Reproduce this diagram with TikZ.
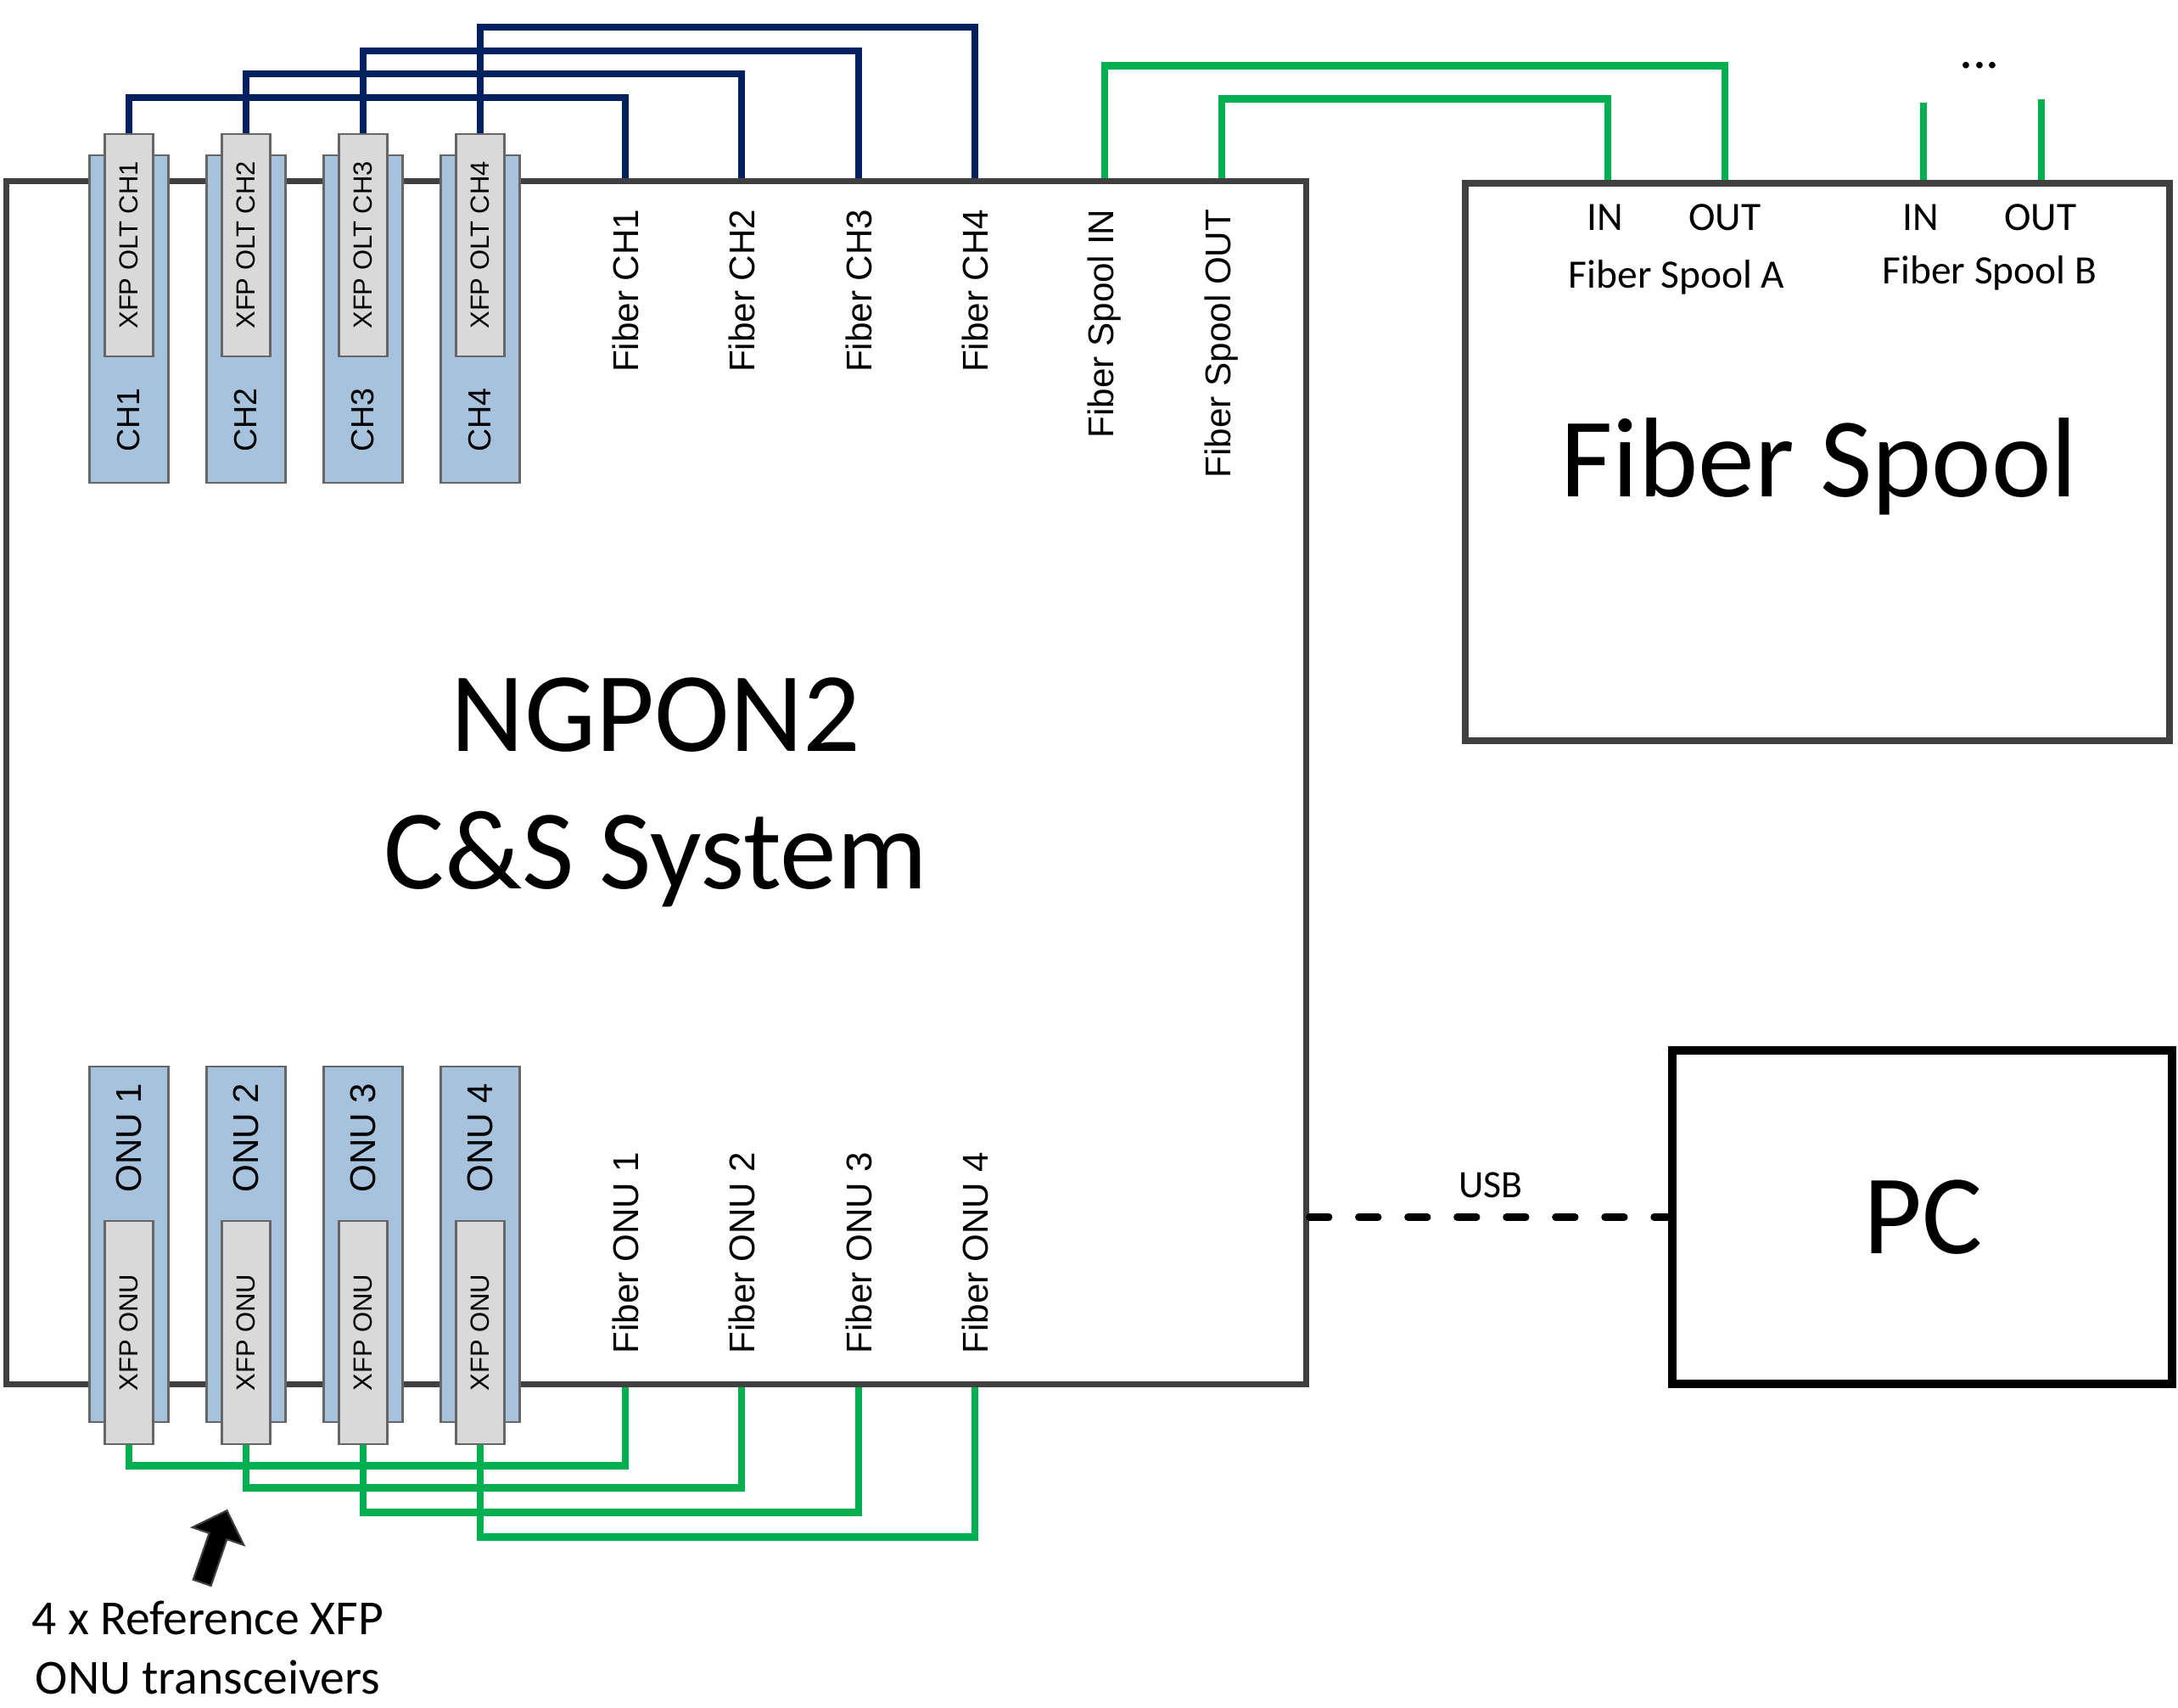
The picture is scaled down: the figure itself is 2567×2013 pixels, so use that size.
\documentclass[tikz,border=0pt]{standalone}
\usepackage{fontspec}
\setmainfont{Carlito}
\newfontfamily\arialfont{Liberation Sans}
\usetikzlibrary{%
	shapes.arrows%
}

\definecolor{oltnavy}{HTML}{002060}
\definecolor{onugreen}{HTML}{00B050}
\definecolor{slotblue}{HTML}{A6C2DD}
\definecolor{xfpgrey}{HTML}{D9D9D9}
\definecolor{framegrey}{HTML}{404040}

\tikzset{
	boxframe/.style={draw=framegrey, line width=2.2pt, inner sep=0pt},
	slot/.style={draw=black!60, fill=slotblue, line width=0.6pt, minimum width=0.93cm, inner sep=0pt},
	xfp/.style={draw=black!60, fill=xfpgrey, line width=0.6pt, minimum width=0.57cm, minimum height=2.62cm, inner sep=0pt},
	fiber/.style={line width=2.4pt},
	portlabel/.style={rotate=90, inner sep=0pt, font=\arialfont\fontsize{12}{14}\selectfont},
	xfplabel/.style={rotate=90, inner sep=0pt, font=\arialfont\fontsize{8.8}{10}\selectfont},
	bigtext/.style={inner sep=0pt, font=\fontsize{38}{46}\selectfont},
	spooltag/.style={anchor=base, inner sep=0pt, font=\fontsize{13.5}{16}\selectfont}
}

\begin{document}
\begin{tikzpicture}[x=0.01cm, y=-0.01cm]
	\useasboundingbox (0,0) rectangle (2567,2013);

	% Boxes
	\node[boxframe, minimum width=15.31cm, minimum height=14.17cm] (ngpon) at (773.5,922.5) {};
	\node[boxframe, minimum width=8.3cm, minimum height=6.57cm] (spool) at (2142,544.5) {};
	\node[boxframe, draw=black, line width=2.8pt, minimum width=5.89cm, minimum height=3.93cm] (pc) at (2265.5,1434.5) {};

	% OLT slots
	\node[slot, minimum height=3.86cm] (ch1) at (152,376) {};
	\node[slot, minimum height=3.86cm] (ch2) at (290,376) {};
	\node[slot, minimum height=3.86cm] (ch3) at (428,376) {};
	\node[slot, minimum height=3.86cm] (ch4) at (566,376) {};
	\node[xfp] (olt1) at (152,289) {};
	\node[xfp] (olt2) at (290,289) {};
	\node[xfp] (olt3) at (428,289) {};
	\node[xfp] (olt4) at (566,289) {};
	\node[xfplabel] (olt1text) at (olt1) {XFP OLT CH1};
	\node[xfplabel] (olt2text) at (olt2) {XFP OLT CH2};
	\node[xfplabel] (olt3text) at (olt3) {XFP OLT CH3};
	\node[xfplabel] (olt4text) at (olt4) {XFP OLT CH4};
	\node[portlabel, font=\arialfont\fontsize{10.7}{12}\selectfont] (ch1text) at (152,495) {CH1};
	\node[portlabel, font=\arialfont\fontsize{10.7}{12}\selectfont] (ch2text) at (290,495) {CH2};
	\node[portlabel, font=\arialfont\fontsize{10.7}{12}\selectfont] (ch3text) at (428,495) {CH3};
	\node[portlabel, font=\arialfont\fontsize{10.7}{12}\selectfont] (ch4text) at (566,495) {CH4};

	% ONU slots
	\node[slot, minimum height=4.19cm] (onu1) at (152,1466.5) {};
	\node[slot, minimum height=4.19cm] (onu2) at (290,1466.5) {};
	\node[slot, minimum height=4.19cm] (onu3) at (428,1466.5) {};
	\node[slot, minimum height=4.19cm] (onu4) at (566,1466.5) {};
	\node[xfp] (xonu1) at (152,1570.5) {};
	\node[xfp] (xonu2) at (290,1570.5) {};
	\node[xfp] (xonu3) at (428,1570.5) {};
	\node[xfp] (xonu4) at (566,1570.5) {};
	\node[xfplabel] (xonu1text) at (xonu1) {XFP ONU};
	\node[xfplabel] (xonu2text) at (xonu2) {XFP ONU};
	\node[xfplabel] (xonu3text) at (xonu3) {XFP ONU};
	\node[xfplabel] (xonu4text) at (xonu4) {XFP ONU};
	\node[portlabel] (onu1text) at (152,1341) {ONU 1};
	\node[portlabel] (onu2text) at (290,1341) {ONU 2};
	\node[portlabel] (onu3text) at (428,1341) {ONU 3};
	\node[portlabel] (onu4text) at (566,1341) {ONU 4};

	% Ports on the boxes
	\coordinate (pch1) at (737,0 |- ngpon.north);
	\coordinate (pch2) at (874,0 |- ngpon.north);
	\coordinate (pch3) at (1012,0 |- ngpon.north);
	\coordinate (pch4) at (1149,0 |- ngpon.north);
	\coordinate (ponu1) at (737,0 |- ngpon.south);
	\coordinate (ponu2) at (874,0 |- ngpon.south);
	\coordinate (ponu3) at (1012,0 |- ngpon.south);
	\coordinate (ponu4) at (1149,0 |- ngpon.south);
	\coordinate (pspin) at (1302,0 |- ngpon.north);
	\coordinate (pspout) at (1440,0 |- ngpon.north);
	\coordinate (sinA) at (1895,0 |- spool.north);
	\coordinate (soutA) at (2033,0 |- spool.north);
	\coordinate (sinB) at (2267,0 |- spool.north);
	\coordinate (soutB) at (2406,0 |- spool.north);
	\coordinate (endinB) at (2267,121);
	\coordinate (endoutB) at (2406,117);

	% Port labels
	\node[portlabel, anchor=east] (lch1) at (737,246) {Fiber CH1};
	\node[portlabel, anchor=east] (lch2) at (874,246) {Fiber CH2};
	\node[portlabel, anchor=east] (lch3) at (1012,246) {Fiber CH3};
	\node[portlabel, anchor=east] (lch4) at (1149,246) {Fiber CH4};
	\node[portlabel, anchor=east] (lspin) at (1302,246) {Fiber Spool IN};
	\node[portlabel, anchor=east] (lspout) at (1440,246) {Fiber Spool OUT};
	\node[portlabel, anchor=west] (lonu1) at (737,1596) {Fiber ONU 1};
	\node[portlabel, anchor=west] (lonu2) at (874,1596) {Fiber ONU 2};
	\node[portlabel, anchor=west] (lonu3) at (1012,1596) {Fiber ONU 3};
	\node[portlabel, anchor=west] (lonu4) at (1149,1596) {Fiber ONU 4};

	% OLT fibers
	\draw[fiber, draw=oltnavy] (olt1.north) -- ++(0,-42) -| (pch1);
	\draw[fiber, draw=oltnavy] (olt2.north) -- ++(0,-70) -| (pch2);
	\draw[fiber, draw=oltnavy] (olt3.north) -- ++(0,-97) -| (pch3);
	\draw[fiber, draw=oltnavy] (olt4.north) -- ++(0,-125) -| (pch4);

	% ONU fibers
	\draw[fiber, draw=onugreen] (xonu1.south) -- ++(0,25) -| (ponu1);
	\draw[fiber, draw=onugreen] (xonu2.south) -- ++(0,51) -| (ponu2);
	\draw[fiber, draw=onugreen] (xonu3.south) -- ++(0,80) -| (ponu3);
	\draw[fiber, draw=onugreen] (xonu4.south) -- ++(0,109) -| (ponu4);

	% Spool fibers
	\draw[fiber, draw=onugreen] (pspin) -- ++(0,-132) -| (soutA);
	\draw[fiber, draw=onugreen] (pspout) -- ++(0,-93) -| (sinA);
	\draw[fiber, draw=onugreen] (endinB) -- (sinB);
	\draw[fiber, draw=onugreen] (endoutB) -- (soutB);

	% Spool labels
	\node[spooltag] (inA) at (1892,272) {IN};
	\node[spooltag] (outA) at (2033,272) {OUT};
	\node[spooltag] (inB) at (2264,272) {IN};
	\node[spooltag] (outB) at (2405,272) {OUT};
	\node[spooltag] (nameA) at (1976,340) {Fiber Spool A};
	\node[spooltag] (nameB) at (2345,335) {Fiber Spool B};
	\node[spooltag, font=\fontsize{18}{20}\selectfont] (dots) at (2333,81) {...};

	% USB link
	\draw[line width=2.4pt, dash pattern=on 6.5pt off 10pt, line cap=round] (ngpon.east |- pc.west) -- (pc.west);
	\node[spooltag, font=\fontsize{13}{15}\selectfont] (usb) at (1757,1411) {USB};

	% Big texts
	\node[bigtext, align=center] (ngpontext) at (773,934) {NGPON2\\C\&S System};
	\node[bigtext, anchor=base] (spooltext) at (2144,586) {Fiber Spool};
	\node[bigtext, anchor=base] (pctext) at (2267,1477) {PC};

	% Reference transceivers note
	\node[single arrow, draw=framegrey, fill=black, line width=0.6pt, rotate=71,
		minimum height=0.9cm, minimum width=0.62cm, single arrow head extend=0.21cm,
		inner xsep=0pt, inner ysep=0.1cm] (refarrow) at (251,1828) {};
	\node[inner sep=0pt, align=center, font=\fontsize{16.4}{19.9}\selectfont] (refnote) at (245,1942) {4 x Reference XFP\\ONU transceivers};
\end{tikzpicture}
\end{document}
